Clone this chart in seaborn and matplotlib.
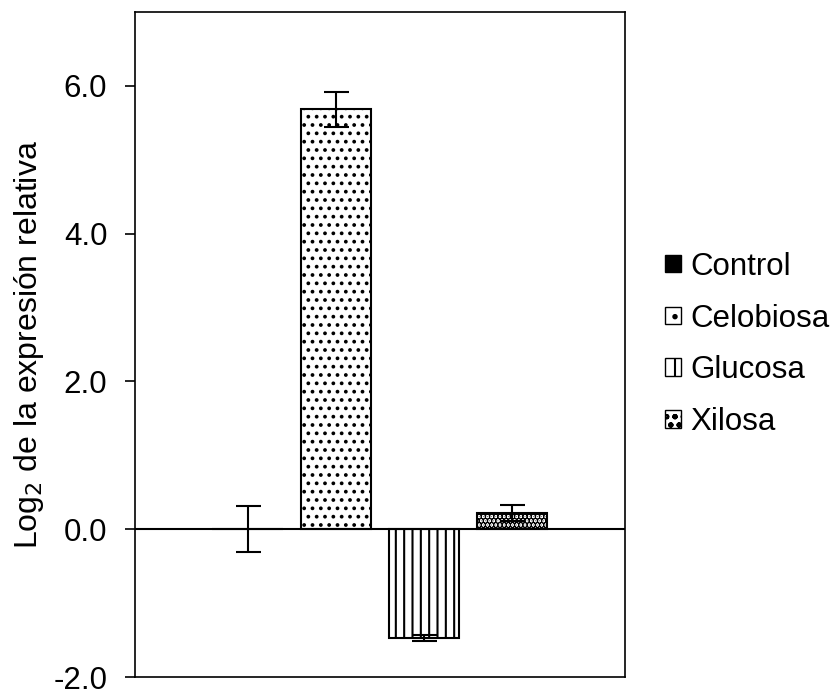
import matplotlib
matplotlib.use("Agg")
import matplotlib.pyplot as plt
import seaborn as sns
import pandas as pd
from matplotlib.patches import Patch

# values
tratamientos = ["Control", "Celobiosa", "Glucosa", "Xilosa"]
log2_expr = [0.0, 5.68, -1.47, 0.22]
error = [0.31, 0.24, 0.04, 0.11]
hatches = ["", "..", "||", "...."]
colores = ["black", "white", "white", "white"]

df = pd.DataFrame({"gen": ["g"] * 4, "tratamiento": tratamientos, "valor": log2_expr})

sns.set_style("white")
plt.rcParams["font.family"] = ["Liberation Sans", "DejaVu Sans"]
plt.rcParams["hatch.linewidth"] = 1.5
plt.rcParams["text.color"] = "black"
plt.rcParams["axes.labelcolor"] = "black"
plt.rcParams["ytick.color"] = "black"

fig = plt.figure(figsize=(8.34, 6.91), dpi=100)
ax = fig.add_axes([0.162, 0.020, 0.587, 0.963])

sns.barplot(data=df, x="gen", y="valor", hue="tratamiento", hue_order=tratamientos,
            palette=colores, width=0.72, gap=0.2, errorbar=None,
            edgecolor="black", linewidth=1.5, legend=False, ax=ax)

for i, (bar, h, e) in enumerate(zip(ax.patches, hatches, error)):
    bar.set_hatch(h)
    bar.set_edgecolor("black")
    if i == 3 and hasattr(bar, "set_hatch_linewidth"):
        bar.set_hatch_linewidth(3.5)
    cx = bar.get_x() + bar.get_width() / 2
    ax.errorbar(cx, bar.get_height(), yerr=e, color="black", capsize=9,
                elinewidth=1.5, capthick=1.5, zorder=5)

ax.axhline(0, color="black", lw=1.5, zorder=4)
ax.set_ylim(-2, 7)
ax.set_xlim(-0.5, 0.5)
ax.set_yticks([-2, 0, 2, 4, 6])
ax.set_yticklabels(["-2.0", "0.0", "2.0", "4.0", "6.0"], fontsize=22.5,
                   va="center_baseline")
ax.tick_params(axis="y", left=True, direction="out", length=7, width=1.2, pad=13)
ax.set_xticks([])
ax.set_xlabel("")
ax.set_ylabel("Log$_2$ de la expresión relativa", fontsize=23, labelpad=5)
for s in ax.spines.values():
    s.set_color("black")
    s.set_linewidth(1.2)

handles = [Patch(facecolor=c, edgecolor="black", hatch=h, linewidth=1)
           for c, h in zip(colores, ["", ".", "|", "oo"])]
ax.legend(handles, tratamientos, loc="center left", bbox_to_anchor=(1.025, 0.5),
          frameon=False, fontsize=22.5, handlelength=0.5, handleheight=0.5,
          handletextpad=0.3, labelspacing=0.7)

fig.savefig("out.png", dpi=100)
